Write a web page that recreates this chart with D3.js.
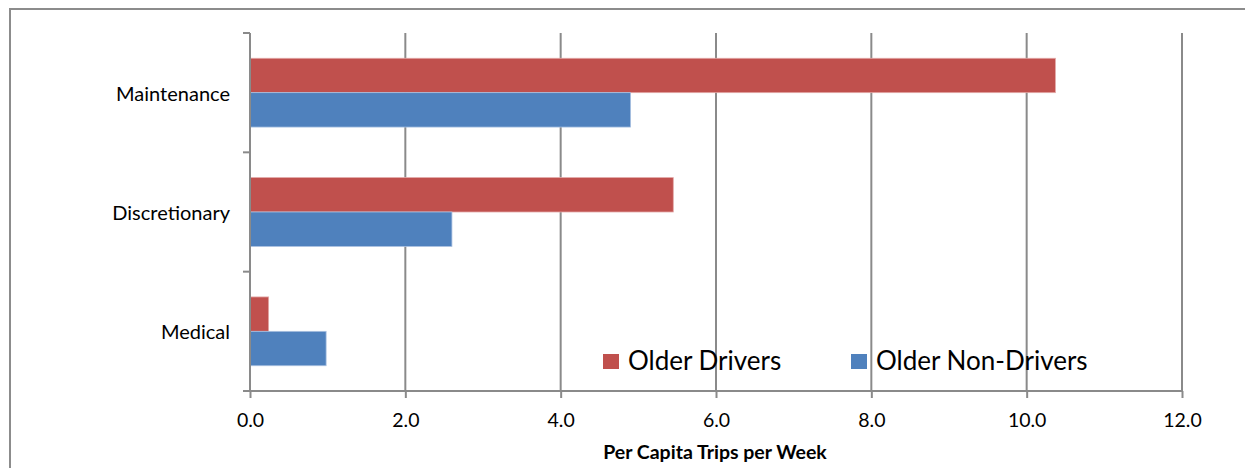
<!DOCTYPE html>
<html>
<head>
<meta charset="utf-8">
<script src="https://cdn.jsdelivr.net/npm/d3@7"></script>
<style>
  html, body { margin: 0; padding: 0; background: #fff; }
  svg { display: block; font-family: Lato, "Open Sans", sans-serif; }
</style>
</head>
<body>
<svg id="chart" width="1245" height="468"></svg>
<script>
// Trip purposes, top to bottom
const categories = ["Maintenance", "Discretionary", "Medical"];
// Per capita trips per week by group
const olderDrivers = [10.37, 5.45, 0.24];
const olderNonDrivers = [4.90, 2.60, 0.98];
const seriesNames = ["Older Drivers", "Older Non-Drivers"];
const xTicks = [0, 2, 4, 6, 8, 10, 12];
const xTitle = "Per Capita Trips per Week";

const colors = ["#C0504D", "#4F81BD"];
const strokes = ["#e3a9a7", "#a9c0e0"];
const gridColor = "#8a8a8a";

const svg = d3.select("#chart");
const plot = { left: 250, right: 1182, top: 33, bottom: 391 };

// Outer chart frame
svg.append("rect")
  .attr("x", 10).attr("y", 9)
  .attr("width", 1260).attr("height", 480)
  .attr("fill", "#fff")
  .attr("stroke", "#8c8c8c").attr("stroke-width", 2);

const x = d3.scaleLinear().domain([0, 12]).range([plot.left, plot.right]);
const y = d3.scaleBand().domain(categories)
  .range([plot.top, plot.bottom])
  .paddingInner(0.4235).paddingOuter(0.21175);
const ySub = d3.scaleBand().domain([0, 1]).range([0, y.bandwidth()]);

// Vertical gridlines
svg.append("g").selectAll("line")
  .data(xTicks.filter(d => d > 0))
  .join("line")
  .attr("x1", d => x(d)).attr("x2", d => x(d))
  .attr("y1", plot.top).attr("y2", plot.bottom)
  .attr("stroke", gridColor).attr("stroke-width", 2);

// Bars
const rows = categories.map((c, i) => ({ cat: c, vals: [olderDrivers[i], olderNonDrivers[i]] }));
const groups = svg.append("g").selectAll("g")
  .data(rows).join("g")
  .attr("transform", d => `translate(0,${y(d.cat)})`);
groups.selectAll("rect")
  .data(d => d.vals.map((v, s) => ({ v, s })))
  .join("rect")
  .attr("x", x(0))
  .attr("y", d => ySub(d.s))
  .attr("width", d => x(d.v) - x(0))
  .attr("height", ySub.bandwidth())
  .attr("fill", d => colors[d.s])
  .attr("stroke", d => strokes[d.s])
  .attr("stroke-width", 0.8);

// Bottom axis
const xAxis = d3.axisBottom(x).tickValues(xTicks)
  .tickFormat(d3.format(".1f")).tickSize(7).tickSizeOuter(0);
const gx = svg.append("g")
  .attr("transform", `translate(0,${plot.bottom})`)
  .call(xAxis);
gx.select(".domain").remove();
gx.append("line")
  .attr("x1", plot.left - 7).attr("x2", plot.right + 1)
  .attr("y1", 0).attr("y2", 0)
  .attr("stroke", gridColor).attr("stroke-width", 2);
gx.selectAll(".tick line").attr("stroke", gridColor).attr("stroke-width", 2);
gx.selectAll(".tick text")
  .attr("y", 36).attr("dy", null)
  .attr("fill", "#000")
  .style("font-size", "19.5px")
  .style("font-family", "Lato, sans-serif");

// Left axis with category boundary ticks
const gy = svg.append("g");
gy.append("line")
  .attr("x1", plot.left).attr("x2", plot.left)
  .attr("y1", plot.top).attr("y2", plot.bottom)
  .attr("stroke", gridColor).attr("stroke-width", 2);
const boundaries = categories.map(c => y(c) - y.step() * y.paddingInner() / 2)
  .concat([plot.bottom]);
gy.selectAll("line.tk").data(boundaries).join("line")
  .attr("class", "tk")
  .attr("x1", plot.left - 7).attr("x2", plot.left)
  .attr("y1", d => d).attr("y2", d => d)
  .attr("stroke", gridColor).attr("stroke-width", 2);
gy.selectAll("text").data(categories).join("text")
  .attr("x", 230)
  .attr("y", d => y(d) + y.bandwidth() / 2 + 8)
  .attr("text-anchor", "end")
  .attr("fill", "#000")
  .style("font-size", "20px")
  .text(d => d);

// Axis title
svg.append("text")
  .attr("x", (plot.left + plot.right) / 2 - 1)
  .attr("y", 459)
  .attr("text-anchor", "middle")
  .attr("font-weight", "bold")
  .style("font-size", "19.5px")
  .text(xTitle);

// Legend
const legendX = [603, 851];
const legend = svg.append("g").selectAll("g")
  .data(seriesNames).join("g")
  .attr("transform", (d, i) => `translate(${legendX[i]},354)`);
legend.append("rect")
  .attr("width", 16).attr("height", 15)
  .attr("fill", (d, i) => colors[i]);
legend.append("text")
  .attr("x", 25).attr("y", 16)
  .attr("fill", "#000")
  .style("font-size", "26px")
  .text(d => d);
</script>
</body>
</html>
